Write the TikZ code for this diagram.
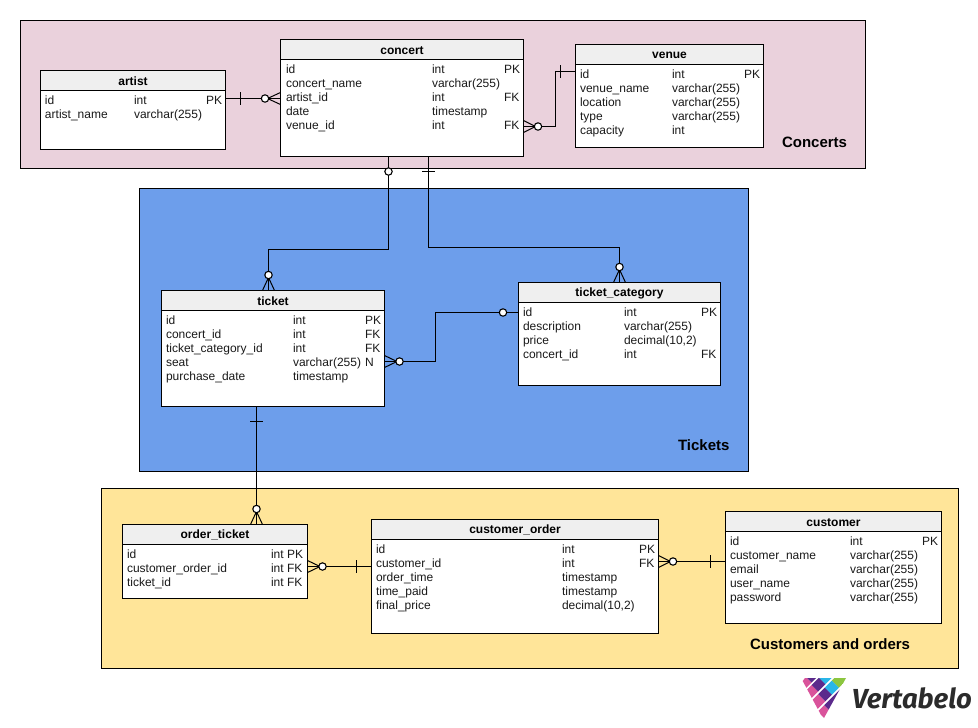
\documentclass[tikz,border=0pt]{standalone}
\usepackage{fontspec}
\setmainfont{Liberation Sans}
\newfontfamily\logofont{Fira Sans}
\definecolor{ink}{HTML}{1A1A1A}
\definecolor{logoink}{HTML}{2B2B2B}
\definecolor{rosepanel}{HTML}{EAD1DC}
\definecolor{bluepanel}{HTML}{6D9EEB}
\definecolor{sandpanel}{HTML}{FFE599}
\definecolor{headfill}{HTML}{EFEFEF}
\definecolor{logopink}{HTML}{D9539B}
\definecolor{logopurple}{HTML}{5B2A8C}
\definecolor{logocyan}{HTML}{29B6E8}
\definecolor{logogreen}{HTML}{8CC63F}
\tikzset{
  panel/.style={draw=black,line width=1pt,anchor=north west,inner sep=0pt,outer sep=0pt},
  tablebox/.style={draw=black,line width=1.3pt,fill=white,anchor=north west,inner sep=0pt,outer sep=0pt},
  headbox/.style={draw=black,line width=1.3pt,fill=headfill,anchor=north west,inner sep=0pt,outer sep=0pt},
  cell/.style={anchor=base west,inner sep=0pt,outer sep=0pt,text=ink,font=\fontsize{12}{14}\selectfont},
  title/.style={inner sep=0pt,outer sep=0pt,text=black,font=\fontsize{12}{14}\selectfont\bfseries},
  caption/.style={anchor=base west,inner sep=0pt,outer sep=0pt,text=black,font=\fontsize{15}{17}\selectfont\bfseries},
  link/.style={draw=black,line width=1.2pt},
  foot/.style={draw=black,line width=1pt},
  ring/.style={draw=black,line width=1.1pt,fill=white},
}
% name, x1, y1, x2, y2, title
\newcommand{\erbox}[6]{%
  \pgfmathsetmacro{\bw}{#4-#2}\pgfmathsetmacro{\bh}{#5-#3}%
  \node[tablebox,minimum width=\bw pt,minimum height=\bh pt] (#1) at (#2,#3) {};
  \node[headbox,minimum width=\bw pt,minimum height=20pt] (#1-head) at (#2,#3) {};
  \node[title,yshift=-0.8pt] (#1-title) at (#1-head.center) {#6};
}
% name, col1, col2, col3, first baseline, rows
\newcommand{\errows}[6]{%
  \foreach \pa/\pb/\pc [count=\r] in {#6}{%
    \pgfmathsetmacro{\yy}{#5+14*(\r-1)}%
    \node[cell] (#1-\r-a) at (#2,\yy) {\strut\pa};
    \node[cell] (#1-\r-b) at (#3,\yy) {\strut\pb};
    \node[cell] (#1-\r-c) at (#4,\yy) {\strut\pc};
  }%
}
\newcommand{\crossv}[2]{\draw[link,line width=1pt] (#1,#2-6.5) -- (#1,#2+6.5);}
\newcommand{\crossh}[2]{\draw[link,line width=1pt] (#1-6.5,#2) -- (#1+6.5,#2);}
\newcommand{\ringat}[2]{\draw[ring] (#1,#2) circle (3.7);}
% apex x, y, end x
\newcommand{\crowh}[3]{\draw[foot] (#3,#2-6) -- (#1,#2) -- (#3,#2+6);}
\newcommand{\crowv}[3]{\draw[foot] (#1-6,#3) -- (#1,#2) -- (#1+6,#3);}
% logo cell: band range t1 t2, stripe range s1 s2, colour
\newcommand{\logocell}[5]{\fill[#5] ({798+(#1+#3)/6},{674+(#1-#3)/6}) -- ({798+(#2+#3)/6},{674+(#2-#3)/6}) -- ({798+(#2+#4)/6},{674+(#2-#4)/6}) -- ({798+(#1+#4)/6},{674+(#1-#4)/6}) -- cycle;}
\begin{document}
\begin{tikzpicture}[x=1pt,y=-1pt]
\useasboundingbox (0,0) rectangle (978,728);
\fill[white] (0,0) rectangle (978,728);
% panels
\node[panel,fill=rosepanel,minimum width=845pt,minimum height=148pt] (pconcerts) at (20.5,20.5) {};
\node[panel,fill=bluepanel,minimum width=609pt,minimum height=283pt] (ptickets) at (139.5,188.5) {};
\node[panel,fill=sandpanel,minimum width=857pt,minimum height=180pt] (pcustomers) at (101.5,488.5) {};
\node[caption] (lconcerts) at (782,147) {Concerts};
\node[caption] (ltickets) at (678,450) {Tickets};
\node[caption] (lcustomers) at (750,649) {Customers and orders};
% tables
\erbox{artist}{40.5}{70.5}{225.5}{149.5}{artist}
\errows{artist}{45}{134}{206}{104}{id/int/PK,artist\_name/varchar(255)/}
\erbox{concert}{280.5}{39.5}{523.5}{156.5}{concert}
\errows{concert}{286}{432}{504}{73.5}{id/int/PK,concert\_name/varchar(255)/,artist\_id/int/FK,date/timestamp/,venue\_id/int/FK}
\erbox{venue}{575.5}{44.5}{763.5}{147.5}{venue}
\errows{venue}{580}{672}{744}{78.5}{id/int/PK,venue\_name/varchar(255)/,location/varchar(255)/,type/varchar(255)/,capacity/int/}
\erbox{ticket}{161.5}{290.5}{384.5}{406.5}{ticket}
\errows{ticket}{166}{293}{365}{324.5}{id/int/PK,concert\_id/int/FK,ticket\_category\_id/int/FK,seat/varchar(255)/N,purchase\_date/timestamp/}
\erbox{category}{518.5}{282.5}{720.5}{385.5}{ticket\_category}
\errows{category}{523}{624}{701}{316.5}{id/int/PK,description/varchar(255)/,price/{decimal(10,2)}/,concert\_id/int/FK}
\erbox{orderticket}{122.5}{524.5}{307.5}{598.5}{order\_ticket}
\errows{orderticket}{127}{271}{287}{558.5}{id/int/PK,customer\_order\_id/int/FK,ticket\_id/int/FK}
\erbox{corder}{371.5}{519.5}{658.5}{633.5}{customer\_order}
\errows{corder}{376}{562}{639}{553.5}{id/int/PK,customer\_id/int/FK,order\_time/timestamp/,time\_paid/timestamp/,final\_price/{decimal(10,2)}/}
\erbox{customer}{725.5}{511.5}{941.5}{623.5}{customer}
\errows{customer}{730}{850}{922}{545.5}{id/int/PK,customer\_name/varchar(255)/,email/varchar(255)/,user\_name/varchar(255)/,password/varchar(255)/}
% connectors
\draw[link] (artist.east |- 0,98.5) -- (concert.west |- 0,98.5);
\crossv{240.5}{98.5}\crowh{267.5}{98.5}{280.5}\ringat{265}{98.5}
\draw[link] (concert.east |- 0,126.5) -- (555.5,126.5) -- (555.5,71.5) -- (venue.west |- 0,71.5);
\crossv{560.5}{71.5}\crowh{535.5}{126.5}{523.5}\ringat{538}{126.5}
\draw[link] (388.5,0 |- concert.south) -- (388.5,249.5) -- (268.5,249.5) -- (268.5,0 |- ticket.north);
\ringat{388.5}{171.5}\crowv{268.5}{277.5}{290.5}\ringat{268.5}{275}
\draw[link] (428.5,0 |- concert.south) -- (428.5,247.5) -- (619.5,247.5) -- (619.5,0 |- category.north);
\crossh{428.5}{171.5}\crowv{619.5}{269.5}{282.5}\ringat{619.5}{267}
\draw[link] (ticket.east |- 0,361.5) -- (435.5,361.5) -- (435.5,312.5) -- (category.west |- 0,312.5);
\crowh{397}{361.5}{384.5}\ringat{399.5}{361.5}\ringat{503}{312.5}
\draw[link] (256.5,0 |- ticket.south) -- (256.5,0 |- orderticket.north);
\crossh{256.5}{421.5}\crowv{256.5}{511.5}{524.5}\ringat{256.5}{509}
\draw[link] (orderticket.east |- 0,566.5) -- (corder.west |- 0,566.5);
\crowh{320}{566.5}{307.5}\ringat{322.5}{566.5}\crossv{356.5}{566.5}
\draw[link] (corder.east |- 0,561.5) -- (customer.west |- 0,561.5);
\crowh{670.5}{561.5}{658.5}\ringat{673}{561.5}\crossv{710.5}{561.5}
% logo
\begin{scope}
\clip (802.7,681) -- (805,678) -- (846,678) -- (824,718) -- (821,715) -- cycle;
\logocell{0}{66}{-60}{15}{logopink}
\logocell{0}{66}{15}{80}{logopurple}
\logocell{74}{113}{-60}{8}{logopink}
\logocell{74}{113}{8}{52}{logopurple}
\logocell{74}{113}{52}{120}{logocyan}
\logocell{121}{164}{-60}{0}{logopink}
\logocell{121}{164}{0}{40}{logopurple}
\logocell{121}{164}{40}{82}{logocyan}
\logocell{121}{164}{82}{160}{logogreen}
\logocell{172}{260}{-90}{-15}{logopink}
\logocell{172}{260}{-15}{90}{logopurple}
\end{scope}
\node[anchor=base west,inner sep=0pt,outer sep=0pt,text=logoink,font=\logofont\fontsize{27.5}{30}\selectfont\bfseries\itshape] (logotext) at (852,708) {Vertabelo};
\end{tikzpicture}
\end{document}
